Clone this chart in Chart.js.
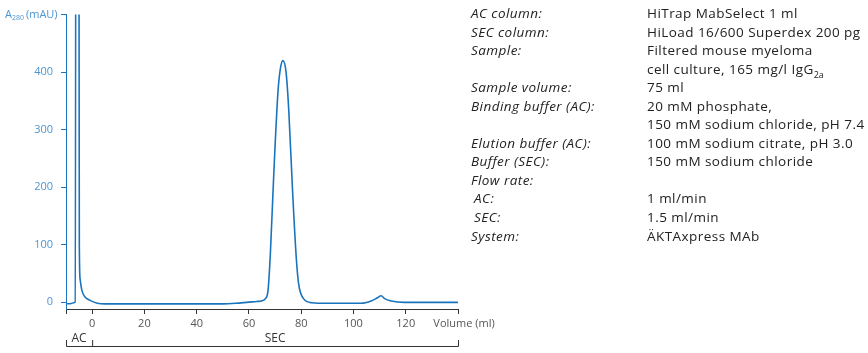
<!DOCTYPE html>
<html>
<head>
<meta charset="utf-8">
<script src="https://cdn.jsdelivr.net/npm/chart.js@4/dist/chart.umd.min.js"></script>
<style>
  html, body { margin: 0; padding: 0; background: #fff; }
  body { width: 868px; height: 353px; position: relative; overflow: hidden; }
  #wrap { position: absolute; left: 0; top: 0; width: 500px; height: 353px; }
  #info { position: absolute; left: 471px; top: 4px; font-family: "Open Sans", sans-serif; font-size: 13.5px; letter-spacing: 0.45px; color: #222; line-height: 18.55px; }
  #info .row { position: relative; height: 18.55px; white-space: nowrap; }
  #info .lab { position: absolute; left: 0; font-style: italic; }
  #info .val { position: absolute; left: 176px; }
  #info .ind { left: 3px; }
  #info sub { font-size: 9px; line-height: 0; letter-spacing: 0; }
</style>
</head>
<body>
<div id="wrap"><canvas id="chromCanvas" width="500" height="353"></canvas></div>
<div id="info"></div>
<script>
// 色谱数据 (Volume ml / A280 mAU)
const volume = [-10, -8, -7, -6.5, -5.7, -4.9, -4.6, -3.9, -2.7, -0.8, 2, 5,
    50, 55, 60, 63, 65, 66.3, 67.3, 68.2, 69.5, 71.1, 72, 73, 74.2, 75.2, 76.7, 78.1, 79, 80.9, 84, 90,
    103, 106.8, 109, 110.6, 111.9, 114.4, 119.5, 140];
const absorbance = [-3, -2.5, -1, 0, 3000, 100, 40, 20, 9, 3, -2, -3,
    -3, -2, 0, 1, 2.5, 6, 20, 84, 222, 365, 405, 420, 400, 337, 193, 78, 32, 6, -1, -2,
    -2, 2, 7, 11, 6, 2, -0.5, -0.5];
const xTicks = [-10, 0, 20, 40, 60, 80, 100, 120, 140];
const yTicks = [0, 100, 200, 300, 400, 500];

const infoRows = [
    ['AC column:', 'HiTrap MabSelect 1 ml'],
    ['SEC column:', 'HiLoad 16/600 Superdex 200 pg'],
    ['Sample:', 'Filtered mouse myeloma'],
    ['', 'cell culture, 165 mg/l IgG<sub>2a</sub>'],
    ['Sample volume:', '75 ml'],
    ['Binding buffer (AC):', '20 mM phosphate,'],
    ['', '150 mM sodium chloride, pH 7.4'],
    ['Elution buffer (AC):', '100 mM sodium citrate, pH 3.0'],
    ['Buffer (SEC):', '150 mM sodium chloride'],
    ['Flow rate:', ''],
    [' AC:', '1 ml/min'],
    [' SEC:', '1.5 ml/min'],
    ['System:', 'ÄKTAxpress MAb']
];

const info = document.getElementById('info');
infoRows.forEach(r => {
    const row = document.createElement('div');
    row.className = 'row';
    const indent = r[0].startsWith(' ') ? ' ind' : '';
    row.innerHTML = `<span class="lab${indent}">${r[0].trim()}</span><span class="val">${r[1]}</span>`;
    info.appendChild(row);
});

const blue = '#1a73bd';
const tickBlue = '#4b95d3';
const grey = '#555';

// 轴标题和 AC/SEC 区段
const extras = {
    id: 'extras',
    afterDraw(chart) {
        const c = chart.ctx;
        const x = chart.scales.x;
        const y = chart.scales.y;
        c.save();
        // A280 (mAU)
        const ty = y.getPixelForValue(500);
        c.fillStyle = tickBlue;
        c.textBaseline = 'middle';
        c.textAlign = 'left';
        c.font = '11px "Open Sans"';
        let px = 5;
        c.fillText('A', px, ty);
        px += c.measureText('A').width;
        c.font = '7px "Open Sans"';
        c.fillText('280', px, ty + 3);
        px += c.measureText('280').width + 2;
        c.font = '11px "Open Sans"';
        c.fillText('(mAU)', px, ty);
        // Volume (ml)
        c.fillStyle = grey;
        c.font = '11px "Open Sans"';
        c.textAlign = 'center';
        c.fillText('Volume (ml)', x.getPixelForValue(140) + 6, 324);
        // bracket
        const bx0 = x.getPixelForValue(-10), bx1 = x.getPixelForValue(0), bx2 = x.getPixelForValue(140);
        const by = 346;
        c.strokeStyle = '#333';
        c.lineWidth = 1;
        c.beginPath();
        c.moveTo(bx0 + 0.5, by - 6); c.lineTo(bx0 + 0.5, by + 0.5);
        c.lineTo(bx2 + 0.5, by + 0.5); c.lineTo(bx2 + 0.5, by - 6);
        c.moveTo(bx1 + 0.5, by - 6); c.lineTo(bx1 + 0.5, by);
        c.stroke();
        c.font = '12px "Open Sans"';
        c.fillStyle = '#333';
        c.fillText('AC', (bx0 + bx1) / 2, 339);
        c.fillText('SEC', (bx1 + bx2) / 2, 339);
        c.restore();
    }
};

const ctx = document.getElementById('chromCanvas').getContext('2d');
new Chart(ctx, {
    type: 'line',
    data: {
        datasets: [{
            data: volume.map((v, i) => ({ x: v, y: absorbance[i] })),
            borderColor: blue,
            borderWidth: 1.6,
            pointRadius: 0,
            cubicInterpolationMode: 'monotone',
            fill: false
        }]
    },
    options: {
        responsive: false,
        animation: false,
        layout: { padding: { left: 0, top: 12, right: 42, bottom: 14 } },
        plugins: { legend: { display: false }, tooltip: { enabled: false } },
        scales: {
            x: {
                type: 'linear',
                min: -10,
                max: 140,
                afterBuildTicks: s => { s.ticks = xTicks.map(v => ({ value: v })); },
                afterFit: s => { s.height = 30; },
                border: { display: true, color: '#333', width: 1 },
                grid: { drawOnChartArea: false, drawTicks: true, tickLength: 5, color: '#333' },
                ticks: {
                    color: grey,
                    font: { family: 'Open Sans', size: 11 },
                    padding: 3,
                    maxRotation: 0,
                    autoSkip: false,
                    callback: v => (v === -10 || v === 140) ? '' : v
                }
            },
            y: {
                min: -12,
                max: 500,
                afterBuildTicks: s => { s.ticks = yTicks.map(v => ({ value: v })); },
                afterFit: s => { s.width = 66; },
                border: { display: true, color: blue, width: 1 },
                grid: { drawOnChartArea: false, drawTicks: true, tickLength: 5, color: blue },
                ticks: {
                    color: tickBlue,
                    font: { family: 'Open Sans', size: 11 },
                    padding: 8,
                    autoSkip: false,
                    callback: v => v === 500 ? '' : v
                }
            }
        }
    },
    plugins: [extras]
});
</script>
</body>
</html>
